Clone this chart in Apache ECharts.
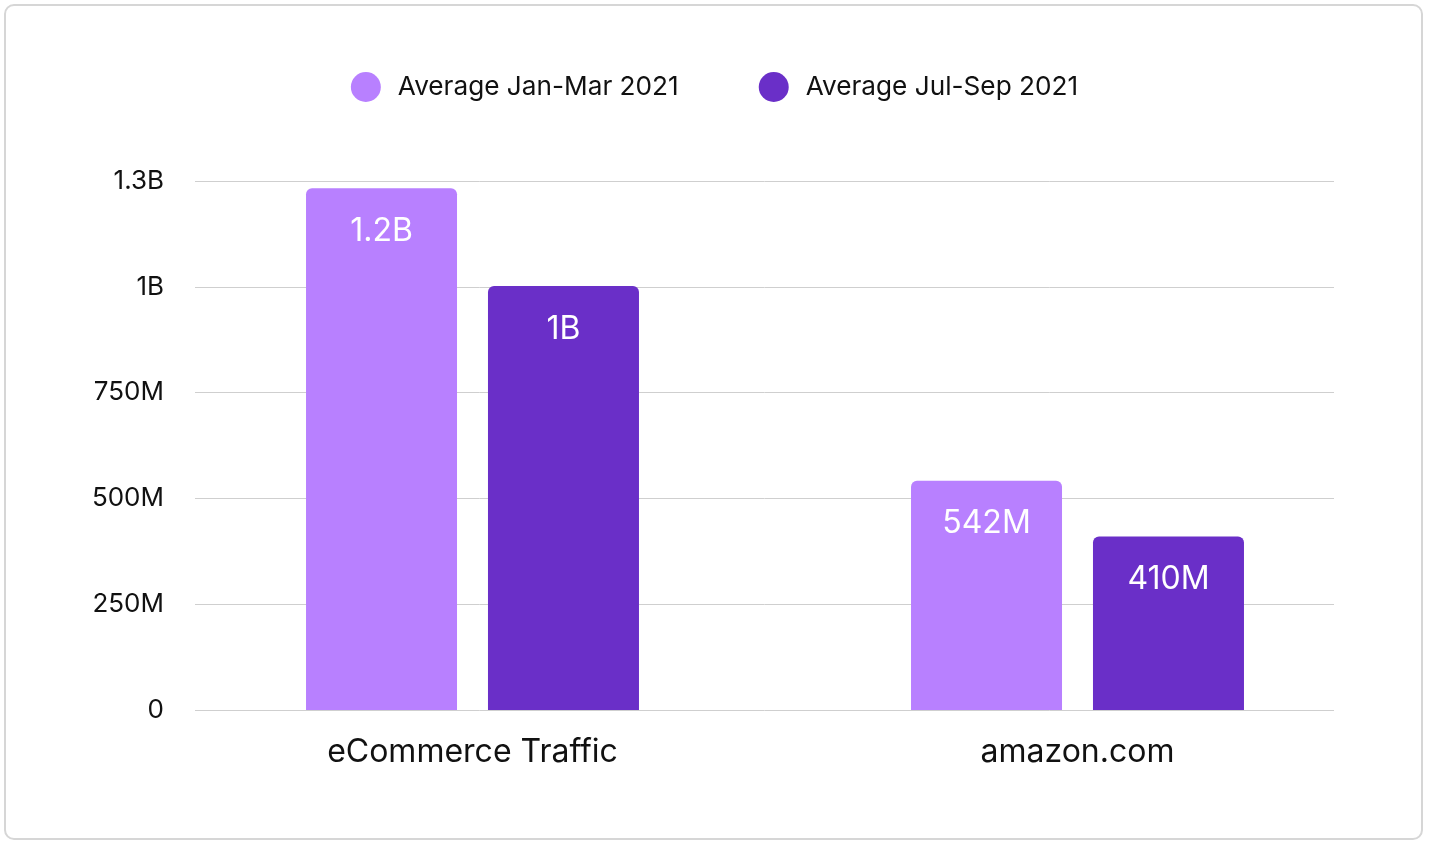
<!DOCTYPE html>
<html>
<head>
<meta charset="utf-8">
<script src="https://cdn.jsdelivr.net/npm/echarts@6/dist/echarts.min.js"></script>
<style>
html,body{margin:0;padding:0;background:#fff;}
#frame{position:absolute;left:4px;top:4px;width:1415px;height:832px;border:2px solid #d6d6d6;border-radius:10px;}
#chart{position:absolute;left:0;top:0;width:1429px;height:842px;}
</style>
</head>
<body>
<div id="frame"></div>
<div id="chart"></div>
<script>
const categories = ['eCommerce Traffic', 'amazon.com'];
const seriesNames = ['Average Jan-Mar 2021', 'Average Jul-Sep 2021'];
const janMar = [1233000000, 542000000];
const julSep = [1002000000, 410000000];
const yTicks = { min: 0, max: 1250000000, interval: 250000000 };

function fmt(v) {
  if (v >= 1e9) return (v / 1e9).toFixed(1).replace(/\.0$/, '') + 'B';
  if (v >= 1e6) return Math.round(v / 1e6) + 'M';
  return String(v);
}

const chart = echarts.init(document.getElementById('chart'));
const font = 'Inter, "Noto Sans", sans-serif';
const labelCfg = {
  show: true, position: 'insideTop', distance: 27, color: '#fff',
  fontSize: 32, fontFamily: font, formatter: p => fmt(p.value)
};
chart.setOption({
  animation: false,
  textStyle: { fontFamily: font },
  color: ['#b880ff', '#6a2fc8'],
  legend: {
    top: 67, left: 'center', itemWidth: 30, itemHeight: 30, itemGap: 80,
    icon: 'circle',
    textStyle: { fontSize: 26.2, color: '#111', fontFamily: font, padding: [0, 0, 0, 12] },
    data: seriesNames
  },
  grid: [
    { left: 195, right: 95, top: 181, bottom: 132 },
    { left: 170, width: 1210, top: 181, bottom: 132 }
  ],
  xAxis: [
    { gridIndex: 0, type: 'category', data: categories, show: false },
    { gridIndex: 1, type: 'category', data: categories,
      axisLine: { show: false }, axisTick: { show: false },
      axisLabel: { fontSize: 32, color: '#111', margin: 26, fontFamily: font } }
  ],
  yAxis: [
    { gridIndex: 0, type: 'value', min: yTicks.min, max: yTicks.max, interval: yTicks.interval,
      axisLine: { show: false }, axisTick: { show: false },
      axisLabel: { fontSize: 26, color: '#111', margin: 31, formatter: v => fmt(v), fontFamily: font },
      splitLine: { lineStyle: { color: '#cfcfcf', width: 1 } } },
    { gridIndex: 1, type: 'value', min: yTicks.min, max: yTicks.max, interval: yTicks.interval, show: false,
      splitLine: { show: false } }
  ],
  series: [
    { name: seriesNames[0], type: 'bar', xAxisIndex: 1, yAxisIndex: 1, data: janMar,
      barWidth: 151, barGap: '20.5%', itemStyle: { borderRadius: [6, 6, 0, 0] }, label: labelCfg },
    { name: seriesNames[1], type: 'bar', xAxisIndex: 1, yAxisIndex: 1, data: julSep,
      barWidth: 151, barGap: '20.5%', itemStyle: { borderRadius: [6, 6, 0, 0] }, label: labelCfg }
  ]
});
</script>
</body>
</html>
